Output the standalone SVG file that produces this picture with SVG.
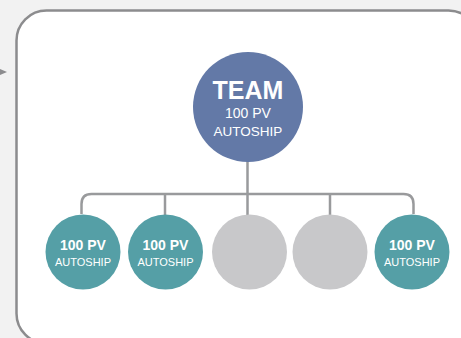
<svg xmlns="http://www.w3.org/2000/svg" width="461" height="338" viewBox="0 0 461 338">
<style>
.conn{fill:none;stroke:#999a9c;stroke-width:2.5}
.teal{fill:#559fa6}
.grey{fill:#c8c8ca}
.t{font-family:"Liberation Sans",Arial,sans-serif;fill:#fff;text-anchor:middle}
.b{font-weight:bold}
</style>
<rect x="0" y="0" width="461" height="338" fill="#f2f2f2"/>
<polygon points="0,69 7,72 0,75" fill="#8c8c8e"/>
<rect x="16.5" y="10.5" width="462" height="333" rx="30" ry="30" fill="#fff" stroke="#8c8c8e" stroke-width="2.5"/>
<g id="connectors">
<path class="conn" d="M247.5,160 V194"/>
<path class="conn" d="M81.5,214 V204 Q81.5,194 91.5,194 H403.5 Q413.5,194 413.5,204 V214"/>
<path class="conn" d="M165,194 V215"/>
<path class="conn" d="M330,194 V215"/>
<path class="conn" d="M247.5,194 V215"/>
</g>
<g id="team">
<circle cx="248" cy="107" r="55" fill="#6379a7"/>
<text class="t b" x="248" y="99" font-size="25">TEAM</text>
<text class="t" x="248" y="118" font-size="14">100 PV</text>
<text class="t" x="248" y="136" font-size="13.5">AUTOSHIP</text>
</g>
<g id="child1">
<circle class="teal" cx="83" cy="252" r="37.5"/>
<text class="t b" x="83" y="250" font-size="14">100 PV</text>
<text class="t" x="83" y="266" font-size="11">AUTOSHIP</text>
</g>
<g id="child2">
<circle class="teal" cx="165.5" cy="252" r="37.5"/>
<text class="t b" x="165.5" y="250" font-size="14">100 PV</text>
<text class="t" x="165.5" y="266" font-size="11">AUTOSHIP</text>
</g>
<g id="child3">
<circle class="grey" cx="249.5" cy="252" r="37.5"/>
</g>
<g id="child4">
<circle class="grey" cx="330" cy="252" r="37.5"/>
</g>
<g id="child5">
<circle class="teal" cx="412" cy="252" r="37.5"/>
<text class="t b" x="412" y="250" font-size="14">100 PV</text>
<text class="t" x="412" y="266" font-size="11">AUTOSHIP</text>
</g>
</svg>
